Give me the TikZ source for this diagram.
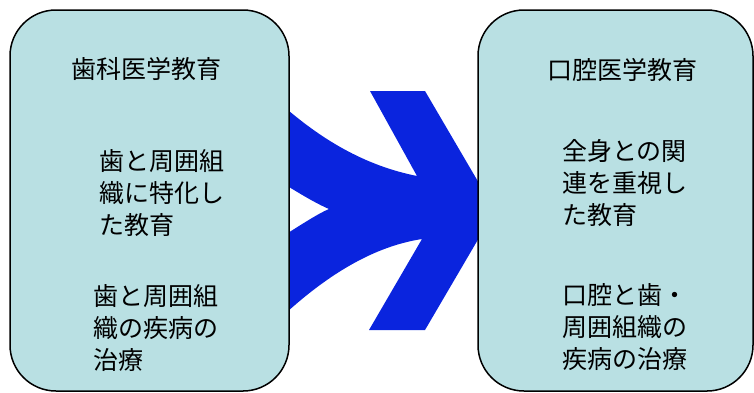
\documentclass[tikz,border=0pt]{standalone}
\usepackage{fontspec}
\newfontfamily\jp{Noto Sans CJK JP}
\definecolor{boxfill}{RGB}{185,224,227}
\definecolor{arrowblue}{RGB}{10,36,222}
\begin{document}
\begin{tikzpicture}[x=1pt,y=-1pt,
  panel/.style={draw=black,line width=1.5pt,fill=boxfill,rounded corners=46pt},
  txt/.style={font=\jp\fontsize{25}{32}\selectfont,text=black,inner sep=0pt,align=left,anchor=west},
  ttl/.style={font=\jp\fontsize{25}{32}\selectfont,text=black,inner sep=0pt,anchor=center}]
\useasboundingbox (0,0) rectangle (754,392);
% merging arrow
\fill[arrowblue] (370,91) -- (425,91) -- (495,210.5) -- (425,330) -- (369,330) -- (422,239)
  .. controls (370,247) and (320,279) .. (270,328)
  -- (270,244) .. controls (295,229) and (315,215) .. (329,209)
  .. controls (315,203) and (295,191) .. (270,175)
  -- (270,94) .. controls (320,141) and (367,166) .. (417,176) -- cycle;
% panels
\draw[panel] (10,10) rectangle (289,391);
\draw[panel] (478,10) rectangle (753,391);
\node[ttl] (lt) at (146,69) {歯科医学教育};
\node[ttl] (rt) at (622,70) {口腔医学教育};
\node[txt] (l1) at (99,193) {歯と周囲組\\織に特化し\\た教育};
\node[txt] (l2) at (93,328) {歯と周囲組\\織の疾病の\\治療};
\node[txt] (r1) at (562,183) {全身との関\\連を重視し\\た教育};
\node[txt] (r2) at (562,327) {口腔と歯・\\周囲組織の\\疾病の治療};
\end{tikzpicture}
\end{document}
